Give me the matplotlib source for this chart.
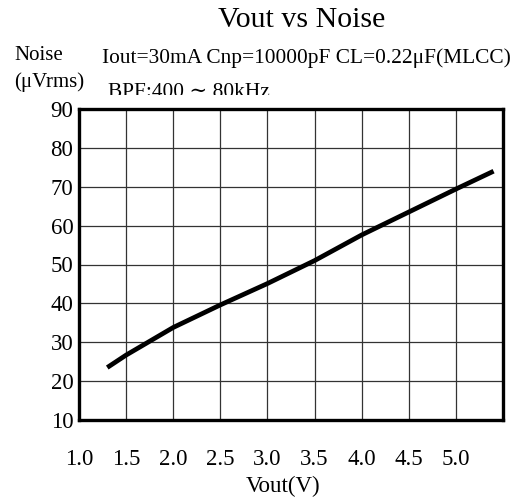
import matplotlib
matplotlib.use("Agg")
import matplotlib.pyplot as plt
from matplotlib.transforms import Bbox, TransformedBbox

# Vout vs Noise curve
vout = [1.3, 1.5, 2.0, 2.5, 3.0, 3.5, 4.0, 4.5, 5.0, 5.4]
noise = [23.5, 26.7, 33.8, 39.6, 45.1, 51.0, 57.6, 63.5, 69.4, 74.0]

x_ticks = [1.0, 1.5, 2.0, 2.5, 3.0, 3.5, 4.0, 4.5, 5.0]
x_grid = [1.5, 2.0, 2.5, 3.0, 3.5, 4.0, 4.5, 5.0]
y_ticks = [10, 20, 30, 40, 50, 60, 70, 80, 90]

plt.rcParams['font.family'] = ['Liberation Serif', 'DejaVu Serif']

W, H = 521, 500
fig = plt.figure(figsize=(W / 100, H / 100), dpi=100)
ax = fig.add_axes([79 / W, (H - 420) / H, 424 / W, 311 / H])

for xv in x_grid:
    ax.axvline(xv, color='#333333', lw=0.9, zorder=1)
for yv in y_ticks[1:-1]:
    ax.axhline(yv, color='#333333', lw=0.9, zorder=1)

ax.plot(vout, noise, color='black', lw=3.4, solid_capstyle='butt',
        solid_joinstyle='round', zorder=3)

ax.set_xlim(1.0, 5.5)
ax.set_ylim(10, 90)
ax.set_xticks(x_ticks)
ax.set_xticklabels(['%.1f' % v for v in x_ticks])
ax.set_yticks(y_ticks)
ax.set_yticklabels([str(v) for v in y_ticks])
ax.tick_params(axis='both', length=0, labelsize=16.5)
ax.tick_params(axis='x', pad=21)
ax.tick_params(axis='y', pad=4)
for sp in ax.spines.values():
    sp.set_linewidth(2.4)

fig.text(302 / W, 1 - 27 / H, 'Vout vs Noise', ha='center', va='baseline', fontsize=21.5)
fig.text(14 / W, 1 - 60 / H, 'Noise', ha='left', va='baseline', fontsize=15)
fig.text(14 / W, 1 - 87 / H, '(\u03bcVrms)', ha='left', va='baseline', fontsize=15)
fig.text(102 / W, 1 - 63 / H, 'Iout=30mA Cnp=10000pF CL=0.22\u03bcF(MLCC)',
         ha='left', va='baseline', fontsize=15.4)
bpf = fig.text(108 / W, 1 - 97 / H, 'BPF:400 \u223c 80kHz', ha='left', va='baseline', fontsize=15.4)
bpf.set_clip_box(TransformedBbox(Bbox([[0, (H - 95) / H], [1, 1]]), fig.transFigure))
bpf.set_clip_on(True)

fig.text(283 / W, 1 - 492 / H, 'Vout(V)', ha='center', va='baseline', fontsize=16.5)

fig.savefig('out.png', dpi=100)
